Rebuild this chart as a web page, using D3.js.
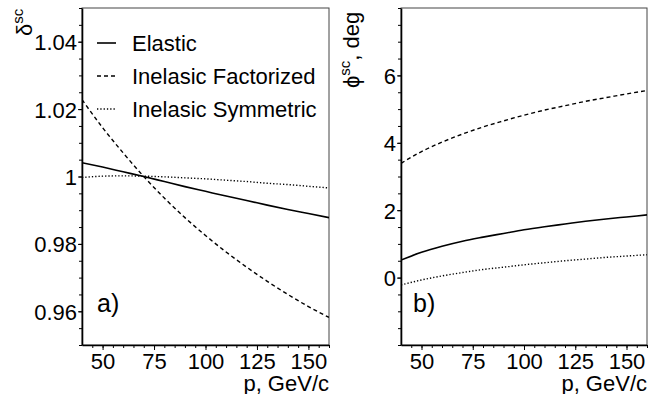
<!DOCTYPE html>
<html>
<head>
<meta charset="utf-8">
<script src="https://cdn.jsdelivr.net/npm/d3@7"></script>
<style>
  body { margin: 0; background: #fff; }
  svg { display: block; font-family: "Liberation Sans", Arial, sans-serif; }
  .tick text { font-size: 22px; fill: #000; }
</style>
</head>
<body>
<div class="chart"></div>
<script>
// momentum points, GeV/c
var momenta = [40, 50, 60, 70, 80, 90, 100, 110, 120, 130, 140, 150, 160];

// panel a) delta^sc
var deltaElastic = [1.0041, 1.0028, 1.0014, 1.0000, 0.9985, 0.9970, 0.9956, 0.9942, 0.9929, 0.9915, 0.9902, 0.9890, 0.9878];
var deltaFactorized = [1.0228, 1.0145, 1.0070, 1.0000, 0.9936, 0.9878, 0.9825, 0.9776, 0.9731, 0.9689, 0.9650, 0.9614, 0.9582];
var deltaSymmetric = [0.9997, 1.0001, 1.0002, 1.0001, 0.9999, 0.9996, 0.9993, 0.9989, 0.9985, 0.9980, 0.9976, 0.9971, 0.9966];

// panel b) phi^sc, deg
var phiElastic = [0.52, 0.75, 0.93, 1.08, 1.20, 1.31, 1.42, 1.51, 1.59, 1.67, 1.74, 1.80, 1.86];
var phiFactorized = [3.39, 3.74, 4.02, 4.26, 4.47, 4.65, 4.82, 4.97, 5.10, 5.23, 5.34, 5.45, 5.55];
var phiSymmetric = [-0.22, -0.07, 0.05, 0.15, 0.24, 0.31, 0.38, 0.44, 0.50, 0.55, 0.60, 0.64, 0.68];

var xTicks = [50, 75, 100, 125, 150];
var deltaTicks = [0.96, 0.98, 1, 1.02, 1.04];
var phiTicks = [0, 2, 4, 6];
var legendNames = ["Elastic", "Inelasic Factorized", "Inelasic Symmetric"];

var W = 660, H = 394;
var plotTop = 8, plotBottom = 345;

var dashes = [null, "4,3", "1.3,2"];

var svg = d3.select(".chart").append("svg")
  .attr("width", W)
  .attr("height", H);

function panel(opts) {
  var x = d3.scaleLinear().domain([40, 160]).range([opts.left, opts.right]);
  var y = d3.scaleLinear().domain(opts.domain).range([plotBottom, plotTop]);
  var g = svg.append("g");

  var clipId = "clip-" + opts.id;
  svg.append("clipPath").attr("id", clipId)
    .append("rect")
      .attr("x", opts.left).attr("y", plotTop)
      .attr("width", opts.right - opts.left).attr("height", plotBottom - plotTop);

  // frame
  g.append("rect")
    .attr("x", opts.left).attr("y", plotTop)
    .attr("width", opts.right - opts.left).attr("height", plotBottom - plotTop)
    .attr("fill", "none")
    .attr("stroke", "#444")
    .attr("stroke-width", 1);

  // minor ticks
  g.append("g")
    .attr("transform", `translate(0, ${plotBottom})`)
    .call(d3.axisBottom(x).tickValues(d3.range(45, 161, 5)).tickSize(3).tickFormat(""))
    .call(a => a.select(".domain").remove());
  g.append("g")
    .attr("transform", `translate(${opts.left}, 0)`)
    .call(d3.axisLeft(y).tickValues(opts.minor).tickSize(3).tickFormat(""))
    .call(a => a.select(".domain").remove());

  // major ticks
  var gx = g.append("g")
    .attr("transform", `translate(0, ${plotBottom})`)
    .call(d3.axisBottom(x).tickValues(xTicks).tickSize(5).tickPadding(3).tickSizeOuter(0));
  gx.select(".domain").attr("stroke-width", 1.6);
  gx.selectAll(".tick text").attr("dy", "0.72em");

  var gy = g.append("g")
    .attr("transform", `translate(${opts.left}, 0)`)
    .call(d3.axisLeft(y).tickValues(opts.ticks).tickSize(4).tickPadding(1).tickSizeOuter(0)
      .tickFormat(d => String(d)));
  gy.select(".domain").attr("stroke-width", 1.6);
  gy.selectAll(".tick text").attr("dy", "0.36em");

  var line = d3.line()
    .curve(d3.curveMonotoneX)
    .x((d, i) => x(momenta[i]))
    .y(d => y(d));

  g.append("g").attr("clip-path", `url(#${clipId})`)
    .selectAll("path")
    .data(opts.series)
    .enter().append("path")
      .attr("d", d => line(d))
      .attr("fill", "none")
      .attr("stroke", "#000")
      .attr("stroke-width", (d, i) => i === 0 ? 1.6 : 1.4)
      .attr("stroke-dasharray", (d, i) => dashes[i]);

  // x title
  g.append("text")
    .attr("x", opts.right)
    .attr("y", 391)
    .attr("text-anchor", "end")
    .attr("font-size", 22)
    .text("p, GeV/c");

  // panel label
  g.append("text")
    .attr("x", opts.left + opts.labelDx)
    .attr("y", 312)
    .attr("font-size", 25)
    .text(opts.label);

  return g;
}

var gA = panel({
  id: "a", left: 82, right: 329,
  domain: [0.95, 1.05],
  ticks: deltaTicks,
  minor: d3.range(0, 21).map(i => 0.95 + i * 0.005),
  series: [deltaElastic, deltaFactorized, deltaSymmetric],
  label: "a)", labelDx: 15
});

var gB = panel({
  id: "b", left: 401, right: 647,
  domain: [-2, 8],
  ticks: phiTicks,
  minor: d3.range(0, 21).map(i => -2 + i * 0.5),
  series: [phiElastic, phiFactorized, phiSymmetric],
  label: "b)", labelDx: 12
});

// y titles
var tA = svg.append("text")
  .attr("transform", "translate(32, 36) rotate(-90)")
  .attr("font-size", 22);
tA.append("tspan").text("\u03b4");
tA.append("tspan").attr("dy", -9).attr("font-size", 15).text("sc");

var tB = svg.append("text")
  .attr("transform", "translate(359, 88) rotate(-90)")
  .attr("font-size", 22);
tB.append("tspan").text("\u03d5");
tB.append("tspan").attr("dy", -9).attr("font-size", 15).text("sc");
tB.append("tspan").attr("dy", 9).text(", deg");

// legend
var legend = gA.append("g").selectAll("g")
  .data(legendNames)
  .enter().append("g")
    .attr("transform", (d, i) => `translate(0, ${51 + i * 33})`);
legend.append("line")
  .attr("x1", 97).attr("x2", 116)
  .attr("y1", -8).attr("y2", -8)
  .attr("stroke", "#000")
  .attr("stroke-width", (d, i) => i === 0 ? 1.6 : 1.4)
  .attr("stroke-dasharray", (d, i) => dashes[i]);
legend.append("text")
  .attr("x", 132)
  .attr("font-size", 22)
  .text(d => d);
</script>
</body>
</html>
